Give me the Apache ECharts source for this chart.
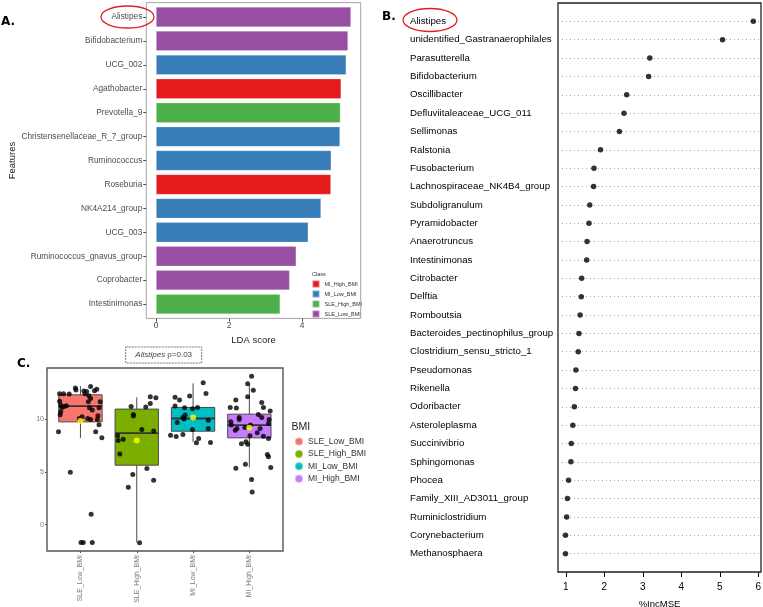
<!DOCTYPE html>
<html><head><meta charset="utf-8">
<script src="https://cdn.jsdelivr.net/npm/echarts@6/dist/echarts.min.js"></script>
<style>html,body{margin:0;padding:0;background:#fff}#c{width:763px;height:607px}</style>
</head><body><div id="c"></div>
<script>
// ---------- Panel A: LDA ----------
const aFeatures = ['Alistipes','Bifidobacterium','UCG_002','Agathobacter','Prevotella_9','Christensenellaceae_R_7_group','Ruminococcus','Roseburia','NK4A214_group','UCG_003','Ruminococcus_gnavus_group','Coprobacter','Intestinimonas'];
const aLDA = [5.34,5.26,5.21,5.07,5.05,5.04,4.80,4.79,4.52,4.17,3.84,3.66,3.40];
const aClass = ['SLE_Low_BMI','SLE_Low_BMI','MI_Low_BMI','MI_High_BMI','SLE_High_BMI','MI_Low_BMI','MI_Low_BMI','MI_High_BMI','MI_Low_BMI','MI_Low_BMI','SLE_Low_BMI','SLE_Low_BMI','SLE_High_BMI'];
const aClassNames = ['MI_High_BMI','MI_Low_BMI','SLE_High_BMI','SLE_Low_BMI'];
const aColors = ['#E41A1C','#377EB8','#4DAF4A','#984EA3'];
const aTicks = [0,2,4];

// ---------- Panel B: %IncMSE ----------
const bNames = ['Alistipes','unidentified_Gastranaerophilales','Parasutterella','Bifidobacterium','Oscillibacter','Defluviitaleaceae_UCG_011','Sellimonas','Ralstonia','Fusobacterium','Lachnospiraceae_NK4B4_group','Subdoligranulum','Pyramidobacter','Anaerotruncus','Intestinimonas','Citrobacter','Delftia','Romboutsia','Bacteroides_pectinophilus_group','Clostridium_sensu_stricto_1','Pseudomonas','Rikenella','Odoribacter','Asteroleplasma','Succinivibrio','Sphingomonas','Phocea','Family_XIII_AD3011_group','Ruminiclostridium','Corynebacterium','Methanosphaera'];
const bValues = [5.87,5.07,3.18,3.15,2.58,2.51,2.39,1.90,1.73,1.72,1.62,1.60,1.55,1.54,1.41,1.40,1.37,1.34,1.32,1.26,1.25,1.22,1.18,1.14,1.13,1.07,1.04,1.02,0.99,0.99];
const bTicks = [1,2,3,4,5,6];

// ---------- Panel C: boxplot ----------
const cGroups = ['SLE_Low_BMI','SLE_High_BMI','MI_Low_BMI','MI_High_BMI'];
const cColors = ['#F8766D','#7CAE00','#00BFC4','#C77CFF'];
// [lower whisker, Q1, median, Q3, upper whisker]
const cBoxStats = [[8.25,9.77,11.27,12.34,13.17],[-1.7,5.65,8.70,10.98,12.10],[7.87,8.88,10.09,11.14,13.43],[5.43,8.25,9.46,10.50,13.33]];
const cMeans = [9.84,8.00,10.19,9.20];
const cYTicks = [0,5,10];
// [horizontal jitter (category units), value]
const sleLowPts = [[-0.09,13.0],[-0.08,12.79],[0.06,12.7],[0.11,12.65],[0.08,12.45],[0.18,13.14],[0.25,12.72],[0.29,12.88],[-0.37,12.45],[-0.30,12.45],[-0.20,12.42],[0.15,12.25],[0.18,12.0],[-0.35,11.36],[-0.33,11.14],[-0.29,11.24],[-0.25,11.3],[-0.37,11.74],[0.14,11.68],[0.16,11.11],[0.21,10.89],[0.35,11.68],[0.33,11.11],[-0.36,10.44],[-0.35,10.73],[-0.02,10.09],[0.03,10.25],[0.13,10.09],[0.18,9.99],[0.31,10.35],[0.30,9.99],[0.33,9.5],[-0.39,8.82],[0.27,8.82],[0.38,8.25],[-0.18,4.98],[0.19,0.98],[0.01,-1.69],[0.05,-1.69],[0.21,-1.69]];
const sleHighPts = [[0.24,12.15],[0.34,12.06],[0.24,11.52],[0.16,11.17],[-0.10,11.23],[-0.06,10.48],[-0.06,10.32],[0.09,9.05],[0.30,8.89],[-0.34,8.44],[-0.33,7.99],[-0.24,8.12],[-0.30,6.72],[-0.07,4.76],[0.18,5.33],[-0.15,3.55],[0.30,4.22],[0.05,-1.72]];
const miLowPts = [[0.18,13.49],[0.23,12.47],[-0.32,12.1],[-0.24,11.85],[-0.06,12.22],[-0.32,11.27],[-0.15,11.11],[-0.01,11.01],[0.08,11.14],[-0.14,10.41],[-0.18,10.19],[-0.16,10.03],[0.27,9.93],[-0.28,9.71],[0.27,9.14],[-0.01,9.04],[-0.40,8.5],[-0.30,8.38],[-0.18,8.57],[0.10,8.19],[0.06,7.78],[0.31,7.81]];
const miHighPts = [[0.04,14.1],[-0.03,13.4],[0.07,12.78],[-0.03,12.16],[-0.24,11.84],[-0.34,11.14],[-0.23,11.08],[0.22,11.62],[0.25,11.14],[0.37,10.79],[0.16,10.48],[0.22,10.19],[-0.18,10.19],[-0.18,10.0],[-0.33,9.78],[-0.32,9.46],[-0.22,9.14],[-0.25,8.98],[0.35,10.0],[0.34,9.62],[0.02,9.46],[-0.08,9.24],[0.19,9.14],[0.14,8.73],[0.25,8.41],[0.34,8.19],[0.01,8.44],[-0.06,7.87],[-0.14,7.68],[-0.03,7.65],[0.32,6.66],[0.34,6.44],[-0.07,5.74],[-0.24,5.36],[0.38,5.42],[0.04,4.28],[0.05,3.10]];
const cPoints = [sleLowPts, sleHighPts, miLowPts, miHighPts];

const chart = echarts.init(document.getElementById('c'), null, {renderer:'canvas'});
const FONT = 'Liberation Sans, Arial, sans-serif';

const series = [];
aClassNames.forEach((k, ci) => {
  series.push({
    type:'bar', name:k, xAxisIndex:0, yAxisIndex:0,
    data: aLDA.map((v,i)=> aClass[i]===k ? v : '-'),
    barWidth:20, barGap:'-100%',
    itemStyle:{color:aColors[ci], borderColor:'rgba(255,255,255,0.35)', borderWidth:0.6},
    silent:true
  });
});
series.push({
  type:'scatter', xAxisIndex:1, yAxisIndex:1,
  data: bValues.map((v,i)=>[v,i]),
  symbolSize:5.5, itemStyle:{color:'#000'}, silent:true
});
cGroups.forEach((g, gi) => {
  series.push({
    type:'custom', name:g, xAxisIndex:2, yAxisIndex:2,
    itemStyle:{color:cColors[gi]},
    data:[[gi].concat(cBoxStats[gi])],
    encode:{x:0, y:[1,2,3,4,5]},
    z:2, silent:true,
    renderItem:function(params, api){
      const x = api.value(0);
      const pMin = api.coord([x, api.value(1)]);
      const pQ1 = api.coord([x, api.value(2)]);
      const pMed = api.coord([x, api.value(3)]);
      const pQ3 = api.coord([x, api.value(4)]);
      const pMax = api.coord([x, api.value(5)]);
      const bw = api.size([1,0])[0]*0.77;
      const cx = pMed[0];
      const ls = {stroke:'#4a4a4a', lineWidth:1};
      return {type:'group', children:[
        {type:'line', shape:{x1:cx,y1:pMax[1],x2:cx,y2:pQ3[1]}, style:ls},
        {type:'line', shape:{x1:cx,y1:pQ1[1],x2:cx,y2:pMin[1]}, style:ls},
        {type:'rect', shape:{x:cx-bw/2,y:pQ3[1],width:bw,height:pQ1[1]-pQ3[1]}, style:{fill:cColors[gi], stroke:'#4a4a4a', lineWidth:1}},
        {type:'line', shape:{x1:cx-bw/2,y1:pMed[1],x2:cx+bw/2,y2:pMed[1]}, style:{stroke:'#333', lineWidth:1.8}}
      ]};
    }
  });
});
const jitterData = [];
cPoints.forEach((pts, gi) => pts.forEach(p => jitterData.push([gi + p[0], p[1]])));
series.push({
  type:'scatter', xAxisIndex:3, yAxisIndex:2, z:5,
  data: jitterData, symbolSize:5, itemStyle:{color:'#000'}, silent:true
});
series.push({
  type:'scatter', xAxisIndex:3, yAxisIndex:2, z:6,
  data: cMeans.map((m,i)=>[i,m]), symbolSize:6, itemStyle:{color:'#FFFF00'}, silent:true
});

const option = {
  animation:false,
  textStyle:{fontFamily:FONT},
  grid:[
    {left:146.3, top:5.04, width:214.4, height:311, outerBoundsMode:'none', containLabel:false},
    {left:558, top:3, width:203, height:569, outerBoundsMode:'none', containLabel:false},
    {left:52.3, top:368, width:225.2, height:183, outerBoundsMode:'none', containLabel:false}
  ],
  legend:[
    {left:311.5, top:279.5, orient:'vertical', icon:'rect', itemWidth:7, itemHeight:7, itemGap:1, padding:0,
     selectedMode:false, textStyle:{fontSize:5.5, color:'#333', lineHeight:7, fontFamily:FONT},
     data: aClassNames.map((n,i)=>({name:n, itemStyle:{color:aColors[i]}}))},
    {left:294, top:436.5, orient:'vertical', icon:'circle', itemWidth:8, itemHeight:8, itemGap:2.4, padding:0,
     selectedMode:false, textStyle:{fontSize:8.5, color:'#333', lineHeight:8, fontFamily:FONT},
     data: cGroups.map((n,i)=>({name:n, itemStyle:{color:cColors[i]}}))}
  ],
  xAxis:[
    {gridIndex:0, type:'value', min:-0.267, max:5.607, offset:2.4,
     axisLine:{show:false, onZero:false}, splitLine:{show:false},
     axisTick:{show:true, customValues:aTicks, length:3, lineStyle:{color:'#444'}},
     axisLabel:{customValues:aTicks, fontSize:8.5, color:'#4d4d4d', margin:3},
     name:'LDA score', nameLocation:'middle', nameGap:16, nameTextStyle:{fontSize:9.5, color:'#222'}},
    {gridIndex:1, type:'value', min:0.795, max:6.07,
     axisLine:{show:false, onZero:false}, splitLine:{show:false},
     axisTick:{show:true, customValues:bTicks, length:5, lineStyle:{color:'#000'}},
     axisLabel:{customValues:bTicks, fontSize:10, color:'#000', margin:10},
     name:'%IncMSE', nameLocation:'middle', nameGap:27, nameTextStyle:{fontSize:9.5, color:'#000'}},
    {gridIndex:2, type:'category', data:cGroups,
     axisLine:{show:false, onZero:false},
     axisTick:{show:true, alignWithLabel:true, length:2, lineStyle:{color:'#555'}},
     axisLabel:{rotate:90, fontSize:7, color:'#7a7a7a', margin:4}},
    {gridIndex:2, type:'value', min:-0.5, max:3.5, show:false, axisLine:{onZero:false}}
  ],
  yAxis:[
    {gridIndex:0, type:'category', data:aFeatures, inverse:true,
     axisLine:{show:false, onZero:false},
     axisTick:{show:true, alignWithLabel:true, length:3, lineStyle:{color:'#444'}},
     axisLabel:{fontSize:8.3, color:'#4d4d4d', margin:4},
     name:'Features', nameLocation:'middle', nameGap:127, nameRotate:90, nameTextStyle:{fontSize:9.5, color:'#222'}},
    {gridIndex:1, type:'value', inverse:true, min:-1, max:30, interval:1,
     axisLine:{show:false, onZero:false}, axisTick:{show:false},
     axisLabel:{align:'left', margin:148, fontSize:9.7, color:'#000',
       formatter:v=>{const i=Math.round(v); return (i>=0 && i<bNames.length)? bNames[i] : '';}},
     splitLine:{show:true, lineStyle:{type:[1,3], color:'#a8a8a8', width:1}}},
    {gridIndex:2, type:'value', min:-2.51, max:14.89, offset:5.3,
     axisLine:{show:false, onZero:false}, splitLine:{show:false},
     axisTick:{show:true, customValues:cYTicks, length:2, lineStyle:{color:'#555'}},
     axisLabel:{customValues:cYTicks, fontSize:7, color:'#7a7a7a', margin:3}}
  ],
  graphic:[
    {type:'rect', shape:{x:146.3,y:2.65,width:214.4,height:315.75}, style:{fill:'none', stroke:'#9a9a9a', lineWidth:0.9}, z:50, silent:true},
    {type:'rect', shape:{x:558,y:3,width:203,height:569}, style:{fill:'none', stroke:'#222', lineWidth:1.3}, z:50, silent:true},
    {type:'rect', shape:{x:47,y:368,width:236,height:183}, style:{fill:'none', stroke:'#555', lineWidth:1.4}, z:50, silent:true},
    {type:'ellipse', shape:{cx:127.5, cy:17, rx:26.5, ry:11}, style:{fill:'none', stroke:'#e02020', lineWidth:1.3}, z:50, silent:true},
    {type:'ellipse', shape:{cx:430, cy:20, rx:27, ry:11.5}, style:{fill:'none', stroke:'#e02020', lineWidth:1.3}, z:50, silent:true},
    {type:'text', left:1, top:16, style:{text:'A.', font:'bold 12px DejaVu Sans', fill:'#000'}, silent:true},
    {type:'text', left:382, top:11, style:{text:'B.', font:'bold 12px DejaVu Sans', fill:'#000'}, silent:true},
    {type:'text', left:17, top:358, style:{text:'C.', font:'bold 12px DejaVu Sans', fill:'#000'}, silent:true},
    {type:'text', left:312, top:271, style:{text:'Class', fontSize:5.5, fontFamily:FONT, fill:'#333'}, silent:true},
    {type:'text', left:291.5, top:422, style:{text:'BMI', fontSize:10.5, fontFamily:FONT, fill:'#222'}, silent:true},
    {type:'rect', shape:{x:125.7,y:347,width:76,height:16}, style:{fill:'#fff', stroke:'#555', lineWidth:0.8, lineDash:[2,1]}, z:50, silent:true},
    {type:'text', x:163.7, y:355, z:51, silent:true,
     style:{text:'{i|Alistipes} p=0.03', align:'center', verticalAlign:'middle', fontSize:8, fontFamily:FONT, fill:'#444',
            rich:{i:{fontStyle:'italic', fontSize:8, fontFamily:FONT, fill:'#444'}}}}
  ],
  series:series
};
chart.setOption(option);
</script></body></html>
